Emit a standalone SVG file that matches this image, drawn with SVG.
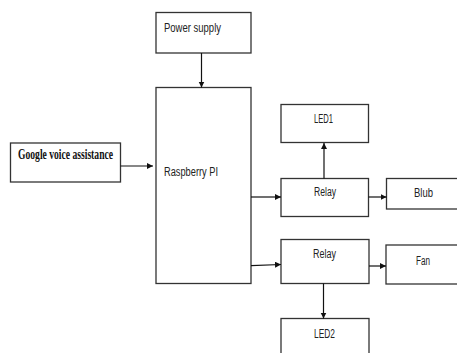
<svg xmlns="http://www.w3.org/2000/svg" width="457" height="353" viewBox="0 0 457 353">
<style>
.box{fill:#fff;stroke:#333;stroke-width:1.3}
.lbl{font-family:"Liberation Sans",Arial,sans-serif;font-size:12.5px;fill:#222}
.gl{font-family:"Liberation Serif","Times New Roman",serif;font-size:14px;font-weight:bold;fill:#111}
.con{stroke:#111;stroke-width:1.2;fill:none;marker-end:url(#ah)}
</style>
<defs>
<marker id="ah" markerUnits="userSpaceOnUse" markerWidth="7" markerHeight="7" refX="6" refY="3" orient="auto">
<path d="M0,0 L6,3 L0,6 z" fill="#111"/>
</marker>
</defs>
<rect width="457" height="353" fill="#fff"/>
<g id="power"><rect class="box" x="156" y="12.5" width="95" height="40.5"/><text class="lbl" x="164" y="32" textLength="57" lengthAdjust="spacingAndGlyphs">Power supply</text></g>
<g id="rpi"><rect class="box" x="156" y="87.5" width="95" height="196"/><text class="lbl" x="164" y="175.5" textLength="54" lengthAdjust="spacingAndGlyphs">Raspberry PI</text></g>
<g id="google"><rect class="box" x="10.5" y="143" width="110" height="39"/><text class="gl" x="18" y="158.5" textLength="95" lengthAdjust="spacingAndGlyphs">Google voice assistance</text></g>
<g id="led1"><rect class="box" x="281" y="104.5" width="87.5" height="38"/><text class="lbl" x="314" y="123" textLength="19" lengthAdjust="spacingAndGlyphs">LED1</text></g>
<g id="relay1"><rect class="box" x="281" y="178.5" width="87.5" height="38"/><text class="lbl" x="314" y="196" textLength="22" lengthAdjust="spacingAndGlyphs">Relay</text></g>
<g id="blub"><rect class="box" x="386.5" y="178.5" width="80" height="30.5"/><text class="lbl" x="414" y="197" textLength="19" lengthAdjust="spacingAndGlyphs">Blub</text></g>
<g id="relay2"><rect class="box" x="281" y="239.5" width="88" height="44"/><text class="lbl" x="313" y="258" textLength="23" lengthAdjust="spacingAndGlyphs">Relay</text></g>
<g id="fan"><rect class="box" x="386" y="245" width="80" height="39"/><text class="lbl" x="416" y="265" textLength="14" lengthAdjust="spacingAndGlyphs">Fan</text></g>
<g id="led2"><rect class="box" x="281" y="318.5" width="88" height="50"/><text class="lbl" x="314" y="338" textLength="21" lengthAdjust="spacingAndGlyphs">LED2</text></g>
<g id="connectors">
<line class="con" x1="201.5" y1="53" x2="201.5" y2="87.5"/>
<line class="con" x1="120.5" y1="166" x2="153" y2="166"/>
<line class="con" x1="251" y1="197" x2="281" y2="197"/>
<line class="con" x1="324" y1="178.5" x2="324" y2="143"/>
<line class="con" x1="368.5" y1="197" x2="386.5" y2="197"/>
<line class="con" x1="251" y1="265.7" x2="281" y2="264.5"/>
<line class="con" x1="369" y1="266" x2="386" y2="266"/>
<line class="con" x1="323.5" y1="283.5" x2="323.5" y2="318.5"/>
</g>
</svg>
